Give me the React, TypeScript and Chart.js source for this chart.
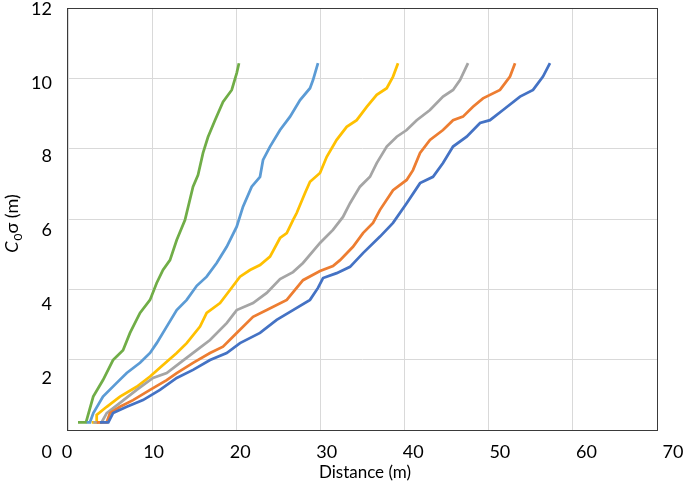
import React, { useEffect, useRef } from "react";
import { Chart, registerables } from "chart.js";

Chart.register(...registerables);

// Tick labels
const xTickLabels = ["0", "10", "20", "30", "40", "50", "60", "70"];
const yTickLabels = ["12", "10", "8", "6", "4", "2", "0"];

// Series (distance m, C0σ m)
const greenX = [1.19, 2.14, 3.0, 4.16, 5.35, 6.54, 7.37, 8.56, 9.75, 10.54, 11.29, 12.12, 12.92, 13.9, 14.86, 15.45, 16.05, 16.64, 17.47, 18.42, 19.46, 20.05, 20.32];
const greenY = [0.22, 0.22, 0.95, 1.42, 1.99, 2.27, 2.76, 3.33, 3.7, 4.18, 4.55, 4.83, 5.4, 5.97, 6.92, 7.25, 7.88, 8.33, 8.81, 9.33, 9.67, 10.15, 10.43];

const lightBlueX = [2.22, 2.61, 3.01, 4.16, 5.79, 6.98, 8.56, 9.75, 10.54, 11.73, 12.92, 14.11, 15.3, 16.48, 17.67, 18.86, 20.05, 20.8, 21.83, 22.82, 23.18, 24.01, 25.2, 26.39, 27.58, 28.76, 29.12, 29.71];
const lightBlueY = [0.22, 0.22, 0.48, 0.95, 1.34, 1.62, 1.91, 2.19, 2.47, 2.94, 3.41, 3.7, 4.1, 4.36, 4.75, 5.21, 5.78, 6.35, 6.92, 7.2, 7.68, 8.06, 8.53, 8.91, 9.38, 9.72, 9.95, 10.43];

const yellowX = [2.82, 3.33, 3.41, 4.6, 6.18, 8.16, 9.75, 11.29, 12.92, 14.11, 15.69, 16.48, 18.07, 19.25, 20.44, 21.63, 22.82, 24.01, 25.2, 26.0, 26.74, 27.18, 28.17, 28.76, 29.95, 30.75, 31.93, 33.12, 34.31, 35.5, 36.69, 37.88, 38.63, 39.22];
const yellowY = [0.22, 0.22, 0.43, 0.66, 0.95, 1.23, 1.52, 1.85, 2.19, 2.47, 2.94, 3.33, 3.61, 3.98, 4.36, 4.55, 4.69, 4.93, 5.46, 5.6, 5.97, 6.17, 6.74, 7.06, 7.31, 7.77, 8.25, 8.62, 8.81, 9.19, 9.53, 9.72, 10.05, 10.43];

const grayX = [3.01, 4.0, 4.6, 6.18, 8.16, 10.1, 11.73, 13.31, 15.3, 16.88, 18.86, 20.05, 21.99, 23.62, 25.2, 26.74, 27.93, 29.95, 31.49, 32.68, 33.52, 34.7, 35.89, 36.69, 37.88, 39.07, 40.25, 41.44, 43.02, 44.57, 45.76, 46.59, 47.54];
const grayY = [0.22, 0.22, 0.48, 0.77, 1.14, 1.48, 1.62, 1.91, 2.27, 2.56, 3.04, 3.41, 3.61, 3.9, 4.29, 4.49, 4.75, 5.32, 5.69, 6.06, 6.45, 6.92, 7.2, 7.59, 8.06, 8.34, 8.53, 8.81, 9.1, 9.48, 9.67, 9.95, 10.43];

const orangeX = [3.41, 4.6, 4.99, 6.18, 7.73, 9.75, 11.73, 12.92, 14.86, 16.88, 18.42, 20.05, 21.99, 23.62, 26.0, 27.93, 29.95, 31.49, 32.33, 33.87, 35.06, 36.25, 37.08, 38.63, 40.25, 41.0, 41.84, 43.02, 44.57, 45.76, 46.94, 48.13, 49.32, 51.34, 52.53, 53.13];
const orangeY = [0.22, 0.22, 0.48, 0.66, 0.85, 1.14, 1.42, 1.62, 1.91, 2.19, 2.37, 2.76, 3.22, 3.41, 3.7, 4.26, 4.52, 4.66, 4.83, 5.21, 5.6, 5.89, 6.26, 6.82, 7.11, 7.39, 7.88, 8.25, 8.53, 8.81, 8.91, 9.19, 9.43, 9.67, 10.05, 10.43];

const darkBlueX = [3.8, 4.79, 5.35, 6.98, 8.91, 10.93, 12.92, 14.86, 16.88, 18.86, 20.44, 22.82, 24.8, 26.74, 28.76, 29.71, 30.31, 31.93, 33.52, 35.06, 37.08, 38.63, 40.25, 41.84, 43.38, 44.57, 45.76, 47.38, 48.97, 50.15, 51.7, 53.72, 55.27, 56.45, 57.28];
const darkBlueY = [0.22, 0.22, 0.48, 0.66, 0.85, 1.14, 1.48, 1.71, 1.99, 2.19, 2.47, 2.76, 3.13, 3.41, 3.7, 4.04, 4.32, 4.46, 4.64, 5.03, 5.5, 5.89, 6.45, 7.02, 7.2, 7.59, 8.06, 8.34, 8.73, 8.81, 9.1, 9.48, 9.67, 10.05, 10.43];

const seriesList = [
  { xs: darkBlueX, ys: darkBlueY, color: "#4472C4" },
  { xs: orangeX, ys: orangeY, color: "#ED7D31" },
  { xs: grayX, ys: grayY, color: "#A5A5A5" },
  { xs: yellowX, ys: yellowY, color: "#FFC000" },
  { xs: lightBlueX, ys: lightBlueY, color: "#5B9BD5" },
  { xs: greenX, ys: greenY, color: "#70AD47" },
];

const FONT = "Lato, 'Open Sans', sans-serif";

const decorPlugin = {
  id: "decor",
  afterDraw(chart: any) {
    const ctx = chart.ctx;
    const a = chart.chartArea;
    ctx.save();
    // plot border
    ctx.strokeStyle = "#3a3a3a";
    ctx.lineWidth = 1;
    ctx.strokeRect(a.left - 0.5, a.top + 0.5, a.right - a.left + 1, a.bottom - a.top);
    // tick labels (spaced evenly like the original figure)
    ctx.fillStyle = "#000";
    ctx.font = `18px ${FONT}`;
    ctx.textBaseline = "middle";
    ctx.textAlign = "right";
    const yTop = 9, yBot = 452;
    yTickLabels.forEach((t, i) => {
      const y = yTop + ((yBot - yTop) * i) / (yTickLabels.length - 1);
      ctx.fillText(t, 52, y);
    });
    ctx.textAlign = "center";
    const xL = 67, xR = 673;
    xTickLabels.forEach((t, i) => {
      const x = xL + ((xR - xL) * i) / (xTickLabels.length - 1);
      ctx.fillText(t, x, 452);
    });
    // x title
    ctx.font = `17px ${FONT}`;
    ctx.fillText("Distance (m)", 365, 473);
    // y title: C0σ (m)
    ctx.textBaseline = "alphabetic";
    ctx.translate(18, 224);
    ctx.rotate(-Math.PI / 2);
    const partC = "C";
    const part0 = "0";
    const partRest = "σ (m)";
    ctx.font = `italic 18px ${FONT}`;
    const wC = ctx.measureText(partC).width;
    ctx.font = `12px ${FONT}`;
    const w0 = ctx.measureText(part0).width;
    ctx.font = `18px ${FONT}`;
    const wR = ctx.measureText(partRest).width;
    const total = wC + w0 + wR;
    let x = -total / 2;
    ctx.textAlign = "left";
    ctx.font = `italic 18px ${FONT}`;
    ctx.fillText(partC, x, 0);
    x += wC + 1;
    ctx.font = `12px ${FONT}`;
    ctx.fillText(part0, x, 4);
    x += w0;
    ctx.font = `18px ${FONT}`;
    ctx.fillText(partRest, x, 0);
    ctx.restore();
  },
};

export default function App() {
  const ref = useRef<HTMLCanvasElement | null>(null);
  useEffect(() => {
    if (!ref.current) return;
    const chart = new Chart(ref.current, {
      type: "line",
      data: {
        datasets: seriesList.map((s) => ({
          data: s.xs.map((x, i) => ({ x, y: s.ys[i] })),
          borderColor: s.color,
          backgroundColor: s.color,
          borderWidth: 2.75,
          pointRadius: 0,
          tension: 0,
          fill: false,
        })),
      },
      options: {
        responsive: false,
        animation: false,
        layout: { padding: { left: 68, right: 28, top: 8, bottom: 57 } },
        plugins: { legend: { display: false }, tooltip: { enabled: false } },
        scales: {
          x: {
            type: "linear",
            min: 0,
            max: 70,
            ticks: { display: false, stepSize: 10 },
            grid: { color: "#d9d9d9", lineWidth: 1, drawTicks: false },
            border: { display: false },
          },
          y: {
            type: "linear",
            min: 0,
            max: 12,
            ticks: { display: false, stepSize: 2 },
            grid: { color: "#d9d9d9", lineWidth: 1, drawTicks: false },
            border: { display: false },
          },
        },
      },
      plugins: [decorPlugin],
    });
    return () => chart.destroy();
  }, []);
  return (
    <div style={{ position: "absolute", left: 0, top: 0, width: 685, height: 487, background: "#fff" }}>
      <canvas ref={ref} width={685} height={487} />
    </div>
  );
}
